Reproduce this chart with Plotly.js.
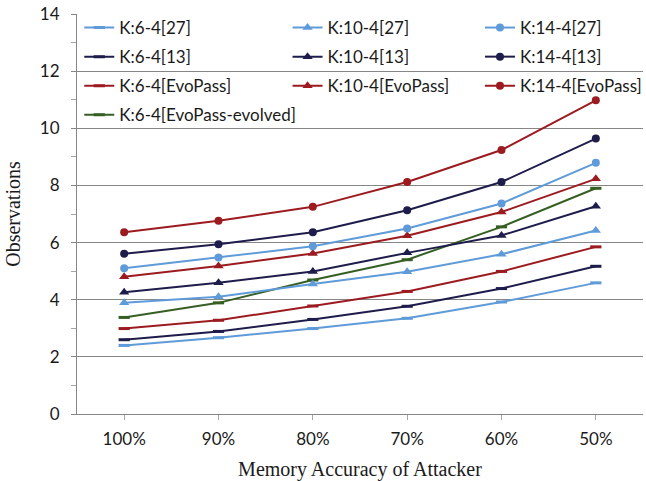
<!DOCTYPE html>
<html>
<head>
<meta charset="utf-8">
<script src="https://cdn.plot.ly/plotly-3.0.1.min.js"></script>
<style>
  html, body { margin: 0; padding: 0; background: #fff; }
  #chart { width: 646px; height: 481px; }
</style>
</head>
<body>
<div id="chart"></div>
<script>
// Memory accuracy levels (x categories)
const accuracy = ['100%', '90%', '80%', '70%', '60%', '50%'];

// Observations needed per key configuration and password source
const k6_27   = [2.40, 2.67, 2.99, 3.35, 3.92, 4.59];
const k10_27  = [3.89, 4.10, 4.55, 4.98, 5.59, 6.42];
const k14_27  = [5.10, 5.48, 5.87, 6.49, 7.37, 8.79];
const k6_13   = [2.60, 2.89, 3.31, 3.77, 4.39, 5.17];
const k10_13  = [4.26, 4.59, 4.99, 5.64, 6.25, 7.27];
const k14_13  = [5.61, 5.94, 6.36, 7.13, 8.12, 9.64];
const k6_evo  = [2.99, 3.28, 3.78, 4.29, 4.99, 5.85];
const k10_evo = [4.80, 5.18, 5.62, 6.24, 7.07, 8.23];
const k14_evo = [6.36, 6.76, 7.25, 8.12, 9.24, 10.98];
const k6_evolved = [3.38, 3.89, 4.69, 5.40, 6.55, 7.90];

const seriesNames = [
  'K:6-4[27]', 'K:10-4[27]', 'K:14-4[27]',
  'K:6-4[13]', 'K:10-4[13]', 'K:14-4[13]',
  'K:6-4[EvoPass]', 'K:10-4[EvoPass]', 'K:14-4[EvoPass]',
  'K:6-4[EvoPass-evolved]'
];

const LIGHT = '#5f9bd9';
const NAVY = '#1e1c4a';
const RED = '#9c1b20';
const GREEN = '#365f24';

function series(name, y, color, kind, legend) {
  let marker;
  if (kind === 'dash') {
    marker = { symbol: 'line-ew', size: 8, color: color, line: { width: 3, color: color } };
  } else if (kind === 'tri') {
    marker = { symbol: 'triangle-up', size: 9, color: color, line: { width: 0 } };
  } else {
    marker = { symbol: 'circle', size: 8, color: color, line: { width: 0 } };
  }
  return {
    type: 'scatter', mode: 'lines+markers',
    x: accuracy, y: y, name: name,
    line: { color: color, width: 2 },
    marker: marker,
    legend: legend, legendgroup: name
  };
}

const data = [
  series(seriesNames[0], k6_27, LIGHT, 'dash', 'legend'),
  series(seriesNames[3], k6_13, NAVY, 'dash', 'legend'),
  series(seriesNames[6], k6_evo, RED, 'dash', 'legend'),
  series(seriesNames[9], k6_evolved, GREEN, 'dash', 'legend'),
  series(seriesNames[1], k10_27, LIGHT, 'tri', 'legend2'),
  series(seriesNames[4], k10_13, NAVY, 'tri', 'legend2'),
  series(seriesNames[7], k10_evo, RED, 'tri', 'legend2'),
  series(seriesNames[2], k14_27, LIGHT, 'circle', 'legend3'),
  series(seriesNames[5], k14_13, NAVY, 'circle', 'legend3'),
  series(seriesNames[8], k14_evo, RED, 'circle', 'legend3')
];

const sans = 'Lato, "Open Sans", sans-serif';
const serif = '"Liberation Serif", "Times New Roman", serif';
const legendFont = { family: sans, size: 17, color: '#1a1a1a' };
function legendAt(x) {
  return {
    x: x, y: 1.01, xanchor: 'left', yanchor: 'top', xref: 'paper', yref: 'paper',
    orientation: 'v', bgcolor: 'rgba(0,0,0,0)', borderwidth: 0,
    font: legendFont, itemwidth: 30, tracegroupgap: 4, traceorder: 'grouped'
  };
}

const layout = {
  width: 646, height: 481,
  margin: { l: 77, r: 3, t: 14, b: 67, autoexpand: false },
  paper_bgcolor: '#ffffff', plot_bgcolor: '#ffffff',
  showlegend: true,
  legend: legendAt(0.004),
  legend2: legendAt(0.372),
  legend3: legendAt(0.712),
  xaxis: {
    type: 'category',
    range: [-0.5, 5.5],
    showgrid: false, zeroline: false,
    showline: true, linecolor: '#868686', linewidth: 1,
    ticks: 'outside', ticklen: 5, tickcolor: '#a6a6a6',
    tickfont: { family: sans, size: 17, color: '#1a1a1a' },
    ticklabelstandoff: 5,
    title: {
      text: 'Memory Accuracy of Attacker',
      font: { family: serif, size: 20, color: '#1a1a1a' },
      standoff: 14
    }
  },
  yaxis: {
    range: [0, 14], dtick: 2, tick0: 0,
    showgrid: true, gridcolor: '#868686', gridwidth: 1,
    zeroline: false,
    showline: true, linecolor: '#868686', linewidth: 1,
    ticks: 'outside', ticklen: 5, tickcolor: '#868686',
    minor: { dtick: 1, ticks: 'outside', ticklen: 5, tickcolor: '#a6a6a6', showgrid: false },
    tickfont: { family: sans, size: 17, color: '#1a1a1a' },
    ticklabelstandoff: 8,
    title: {
      text: 'Observations',
      font: { family: serif, size: 20, color: '#1a1a1a' },
      standoff: 13
    }
  }
};

Plotly.newPlot('chart', data, layout, { displayModeBar: false, staticPlot: true });
</script>
</body>
</html>
